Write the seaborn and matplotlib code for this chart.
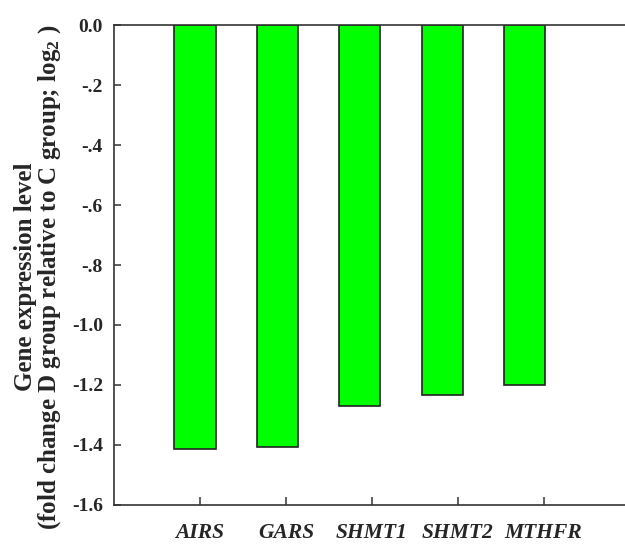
import matplotlib
matplotlib.use("Agg")
import matplotlib.pyplot as plt
from matplotlib.ticker import FuncFormatter, MultipleLocator
import numpy as np
import seaborn as sns
import pandas as pd

genes = ["AIRS", "GARS", "SHMT1", "SHMT2", "MTHFR"]
log2_fold_change = [-1.413, -1.408, -1.270, -1.232, -1.199]

sns.set_style("white")
plt.rcParams["font.family"] = ["Liberation Serif", "DejaVu Serif"]
plt.rcParams["font.weight"] = "bold"
plt.rcParams["mathtext.fontset"] = "custom"
plt.rcParams["mathtext.rm"] = "Liberation Serif:bold"
plt.rcParams["mathtext.it"] = "Liberation Serif:bold:italic"
plt.rcParams["mathtext.bf"] = "Liberation Serif:bold"
plt.rcParams["mathtext.default"] = "rm"

df = pd.DataFrame({"gene": genes, "value": log2_fold_change})

fig = plt.figure(figsize=(6.25, 5.46), dpi=100)
ax = fig.add_axes([0.1824, 0.0751, 0.8176, 0.8791])

sns.barplot(data=df, x="gene", y="value", color="#00ff00", width=0.5,
            edgecolor="#222222", linewidth=1.2, saturation=1,
            errorbar=None, ax=ax)

ax.set_ylim(-1.6, 0.0)
ax.set_xlim(-0.984, 5.22)
ax.yaxis.set_major_locator(MultipleLocator(0.2))


def fmt(v, _pos):
    if abs(v) < 1e-9:
        return "0.0"
    s = f"{v:.1f}"
    return s.replace("-0.", "-.")


ax.yaxis.set_major_formatter(FuncFormatter(fmt))

# category ticks sit on a slightly wider grid than the bars
ax.set_xticks(np.arange(len(genes)) * 1.043 + 0.06)
ax.set_xticklabels(genes)

for side in ["left", "top", "bottom"]:
    ax.spines[side].set_visible(True)
    ax.spines[side].set_color("#333333")
    ax.spines[side].set_linewidth(1.2)
ax.spines["right"].set_visible(False)

ax.tick_params(axis="y", direction="in", length=5, width=1.1, color="#333333",
               labelsize=14, pad=8, left=True)
ax.tick_params(axis="x", direction="in", length=6, width=1.1, color="#333333",
               labelsize=15.5, pad=13, bottom=True)
for lab in ax.get_xticklabels():
    lab.set_fontstyle("italic")
    lab.set_fontweight("bold")
for lab in ax.get_yticklabels():
    lab.set_fontweight("bold")

ax.set_xlabel("")
ax.set_ylabel("Gene expression level\n(fold change D group relative to C group; log$_2$ )",
              fontsize=18, fontweight="bold", linespacing=0.95)
ax.yaxis.set_label_coords(-0.1, 0.475)

fig.savefig("out.png", dpi=100)
